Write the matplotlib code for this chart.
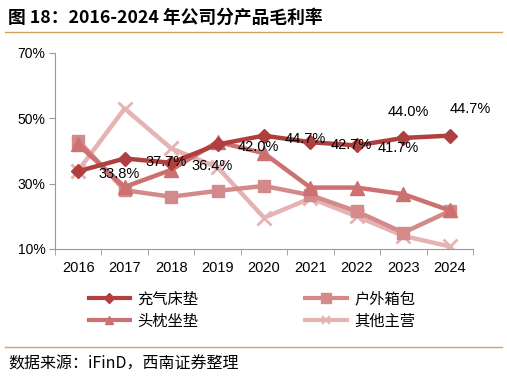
import matplotlib
matplotlib.use("Agg")
import matplotlib.pyplot as plt
from matplotlib.lines import Line2D

plt.rcParams["font.family"] = ["Noto Sans CJK SC", "DejaVu Sans"]

years = ["2016", "2017", "2018", "2019", "2020", "2021", "2022", "2023", "2024"]
mattress = [33.8, 37.7, 36.4, 42.0, 44.7, 42.7, 41.7, 44.0, 44.7]
bags = [43.2, 28.0, 26.0, 27.8, 29.3, 26.5, 21.5, 15.0, 21.6]
pillows = [42.0, 29.0, 34.2, 42.8, 39.3, 28.8, 28.8, 26.8, 21.8]
others = [34.0, 53.0, 40.8, 35.0, 19.6, 25.5, 20.0, 14.0, 10.8]
names = ["充气床垫", "户外箱包", "头枕坐垫", "其他主营"]

num_font = "Liberation Sans"

fig = plt.figure(figsize=(5.07, 3.81), dpi=100)
ax = fig.add_axes([55 / 507, 132 / 381, 418 / 507, 196 / 381])

x = list(range(len(years)))
ax.plot(x, others, color="#e4b3b3", lw=3.2, marker="x", ms=10, mew=2, zorder=2)
ax.plot(x, bags, color="#d48a8a", lw=3.2, marker="s", ms=9, zorder=3)
ax.plot(x, pillows, color="#cc7070", lw=3.2, marker="^", ms=10, zorder=4)
ax.plot(x, mattress, color="#b0403f", lw=3.2, marker="D", ms=7, zorder=5)

# data labels for the mattress series
for i, v in enumerate(mattress):
    if i < 7:
        off = (41, -3)
    elif i == 7:
        off = (5, 26)
    else:
        off = (20, 27)
    ax.annotate(f"{v:.1f}%", (i, v), xytext=off, textcoords="offset pixels",
                ha="center", va="center", fontsize=10.5, family=num_font, zorder=6)

ax.set_xlim(-0.5, 8.5)
ax.set_ylim(10, 70)
ax.set_yticks([10, 30, 50, 70])
ax.set_yticklabels([f"{t}%" for t in [10, 30, 50, 70]], family=num_font)
ax.set_xticks(x)
ax.set_xticklabels(years, family=num_font)
ax.set_xticks([i + 0.5 for i in range(-1, 9)], minor=True)
ax.tick_params(axis="x", which="major", length=0, pad=9, labelsize=10.5)
ax.tick_params(axis="x", which="minor", length=4, color="#999999")
ax.tick_params(axis="y", length=4, color="#999999", labelsize=10, pad=3)
for s in ["top", "right"]:
    ax.spines[s].set_visible(False)
for s in ["left", "bottom"]:
    ax.spines[s].set_color("#999999")

h_mattress = Line2D([], [], color="#b0403f", lw=3, marker="D", ms=5)
h_bags = Line2D([], [], color="#d48a8a", lw=3, marker="s", ms=7)
h_pillows = Line2D([], [], color="#cc7070", lw=3, marker="^", ms=6)
h_others = Line2D([], [], color="#e4b3b3", lw=3, marker="x", ms=6, mew=1.5)
# legend fills column-wise, so order the entries to read row by row
fig.legend([h_mattress, h_pillows, h_bags, h_others],
           [names[0], names[2], names[1], names[3]],
           loc="center", bbox_to_anchor=(252 / 507, 71 / 381),
           ncol=2, frameon=False, fontsize=11, handlelength=2.7, columnspacing=7,
           labelspacing=0.35, handletextpad=0.5)

fig.text(8 / 507, 1 - 18 / 381, "图 18：2016-2024 年公司分产品毛利率", fontsize=12.8,
         fontweight="bold", va="center", ha="left")
fig.add_artist(Line2D([5 / 507, 502 / 507], [1 - 32 / 381, 1 - 32 / 381], color="#d9a25c", lw=1))
fig.add_artist(Line2D([5 / 507, 502 / 507], [1 - 347 / 381, 1 - 347 / 381], color="#d9a25c", lw=1))
fig.text(8 / 507, 1 - 364 / 381, "数据来源：iFinD，西南证券整理", fontsize=11.5,
         style="italic", va="center", ha="left")

fig.savefig("out.png", dpi=100)
